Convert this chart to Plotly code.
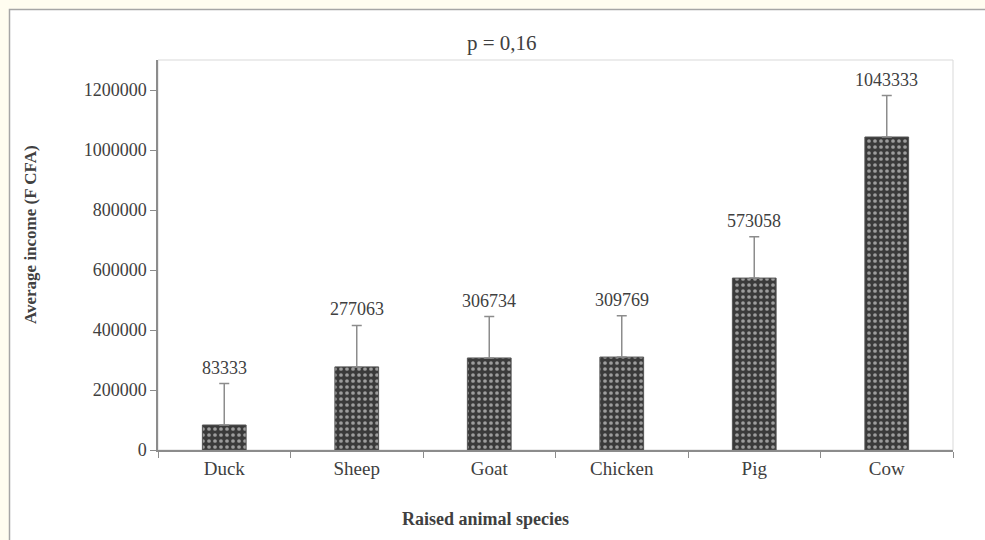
import plotly.graph_objects as go

categories = ["Duck", "Sheep", "Goat", "Chicken", "Pig", "Cow"]
income = [83333, 277063, 306734, 309769, 573058, 1043333]
errors = [138000, 138000, 138000, 138000, 138000, 138000]
tick_vals = [0, 200000, 400000, 600000, 800000, 1000000, 1200000]
tick_text = ["0", "200000", "400000", "600000", "800000", "1000000", "1200000"]

FONT = "Liberation Serif, Times New Roman, serif"
TXT = "#404040"
W, H = 985, 540
L, R, T, B = 158, 32, 60, 90
pw, ph = W - L - R, H - T - B

def px_x(p):
    return (p - L) / pw

def px_y(p):
    return 1 - (p - T) / ph

fig = go.Figure()
fig.add_trace(go.Bar(
    x=categories, y=income, width=0.33,
    marker=dict(
        color="#3a3a3a",
        line=dict(color="#555555", width=1),
        pattern=dict(shape=".", fgcolor="#ffffff", bgcolor="#3a3a3a", size=6, solidity=0.3),
    ),
    error_y=dict(type="data", array=errors, arrayminus=[0] * len(errors), symmetric=False,
                 color="#8c8c8c", thickness=1.5, width=5),
    showlegend=False,
    hoverinfo="skip",
))

annotations = []
for c, v, e in zip(categories, income, errors):
    annotations.append(dict(x=c, y=v + e, xref="x", yref="y", text=str(v), showarrow=False,
                            yanchor="bottom", yshift=4, font=dict(family=FONT, size=18, color=TXT)))
annotations.append(dict(x=px_x(31), y=px_y(235), xref="paper", yref="paper", text="<b>Average income (F CFA)</b>",
                        textangle=-90, showarrow=False, xanchor="center", yanchor="middle",
                        font=dict(family=FONT, size=17, color=TXT)))
annotations.append(dict(x=px_x(485), y=px_y(519), xref="paper", yref="paper", text="<b>Raised animal species</b>",
                        showarrow=False, xanchor="center", yanchor="middle",
                        font=dict(family=FONT, size=18, color=TXT)))
annotations.append(dict(x=px_x(502), y=px_y(43), xref="paper", yref="paper", text="p = 0,16",
                        showarrow=False, xanchor="center", yanchor="middle",
                        font=dict(family=FONT, size=21, color=TXT)))

fig.update_layout(
    width=W, height=H,
    margin=dict(l=L, r=R, t=T, b=B),
    paper_bgcolor="#fffdf0",
    plot_bgcolor="white",
    xaxis=dict(
        showline=True, linecolor="#8c8c8c", linewidth=1.5,
        ticks="outside", tickson="boundaries", ticklen=6, tickcolor="#8c8c8c",
        tickfont=dict(family=FONT, size=19, color=TXT),
        showgrid=False,
    ),
    yaxis=dict(
        range=[0, 1300000], tickvals=tick_vals, ticktext=tick_text,
        showline=True, linecolor="#8c8c8c", linewidth=1.5,
        ticks="outside", ticklen=6, tickcolor="#8c8c8c",
        tickfont=dict(family=FONT, size=18, color=TXT),
        showgrid=False, zeroline=False,
    ),
    annotations=annotations,
    shapes=[
        dict(type="rect", xref="paper", yref="paper", x0=px_x(9.5), x1=px_x(1000), y0=px_y(600), y1=px_y(9.5),
             line=dict(color="#a6a6a6", width=1.5), fillcolor="white", layer="below"),
        dict(type="rect", xref="paper", yref="paper", x0=0, x1=1, y0=0, y1=1,
             line=dict(color="#d9d9d9", width=1), fillcolor="rgba(0,0,0,0)", layer="below"),
    ],
)

fig.write_html("out.html", config={"displayModeBar": False},
               post_script="document.body.style.margin='0';document.body.style.overflow='hidden';")
